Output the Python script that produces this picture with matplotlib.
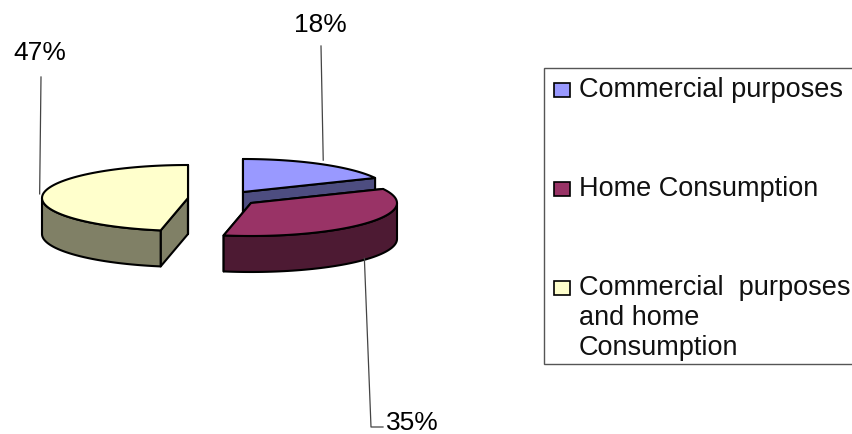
import numpy as np
from matplotlib import pyplot as plt
from matplotlib.patches import Polygon, Rectangle

# Pie values and labels
shares = [18, 35, 47]
names = ["Commercial purposes", "Home Consumption", "Commercial  purposes\nand home\nConsumption"]
top_colors = ["#9999FF", "#993366", "#FFFFCC"]
side_colors = ["#4D4D80", "#4D1A33", "#808066"]

# Exploded slice centres in pixels, ellipse radii and extrusion depth
centers = [(243, 193), (251, 204), (188, 199)]
rx, ry, depth = 146, 33, 36

plt.rcParams['font.family'] = ['Liberation Sans', 'DejaVu Sans']

fig = plt.figure(figsize=(8.53, 4.35), dpi=100)
ax = fig.add_axes([0, 0, 1, 1])
ax.set_xlim(0, 853)
ax.set_ylim(435, 0)
ax.axis('off')


def rim(cx, cy, deg):
    t = np.radians(deg)
    return cx + rx * np.sin(t), cy - ry * np.cos(t)


def add_poly(pts, color):
    ax.add_patch(Polygon(pts, closed=True, facecolor=color, edgecolor='black',
                         linewidth=1.5, joinstyle='round'))


# Slices go clockwise from 12 o'clock, back to front
edges = np.concatenate([[0], np.cumsum(shares)]) * 360 / sum(shares)
for i in range(len(shares)):
    cx, cy = centers[i]
    start, end = edges[i], edges[i + 1]

    # cut faces
    for a in (start, end):
        x, y = rim(cx, cy, a)
        add_poly([(cx, cy), (x, y), (x, y + depth), (cx, cy + depth)], side_colors[i])

    # outer wall, only the part facing the viewer
    lo, hi = max(start, 90), min(end, 270)
    if lo < hi:
        ang = np.linspace(lo, hi, 60)
        xs, ys = rim(cx, cy, ang)
        wall = list(zip(xs, ys)) + list(zip(xs[::-1], ys[::-1] + depth))
        add_poly(wall, side_colors[i])

    # top face
    ang = np.linspace(start, end, 80)
    xs, ys = rim(cx, cy, ang)
    add_poly([(cx, cy)] + list(zip(xs, ys)), top_colors[i])

# Leader lines start at each slice's middle angle
lead = '#444444'
mids = (edges[:-1] + edges[1:]) / 2
x0, y0 = rim(*centers[0], mids[0])
ax.plot([x0 + 2, 321], [y0 - 4, 47], color=lead, lw=0.9)
x1, y1 = rim(*centers[1], mids[1])
ax.plot([x1 - 2, 371, 383], [y1 + depth - 1, 428, 428], color=lead, lw=0.9)
x2, y2 = rim(*centers[2], mids[2])
ax.plot([x2 - 3, 41], [y2 - 1, 78], color=lead, lw=0.9)

fs_pct = 19
fs_leg = 19.5
ax.text(320, 25, f"{shares[0]}%", fontsize=fs_pct, ha='center', va='center')
ax.text(412, 423, f"{shares[1]}%", fontsize=fs_pct, ha='center', va='center')
ax.text(40, 53, f"{shares[2]}%", fontsize=fs_pct, ha='center', va='center')

# Legend box and entries
ax.add_patch(Rectangle((544, 69), 320, 296, facecolor='white', edgecolor='#555555',
                       linewidth=1, clip_on=True))
legend_swatch_y = [84, 183, 282]
legend_text_y = [97, 196, 295]
for i in range(len(names)):
    ax.add_patch(Rectangle((554, legend_swatch_y[i]), 16, 14, facecolor=top_colors[i],
                           edgecolor='black', linewidth=1.2))
    for j, line in enumerate(names[i].split("\n")):
        ax.text(579, legend_text_y[i] + j * 30, line, fontsize=fs_leg, ha='left', va='baseline',
                color='#111111')

fig.savefig('out.png', dpi=100)
